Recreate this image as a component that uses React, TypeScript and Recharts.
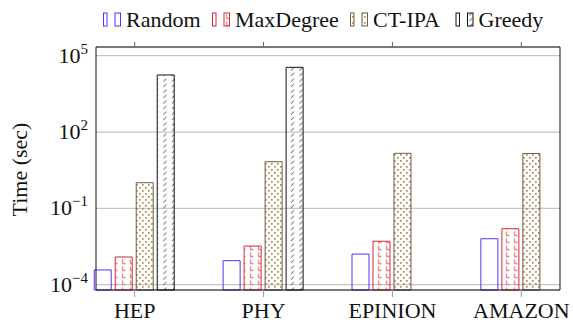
import { Bar, BarChart, CartesianGrid, Legend, XAxis, YAxis } from "recharts";

const datasets = ["HEP", "PHY", "EPINION", "AMAZON"];
const randomTime = [3.8e-4, 8.8e-4, 1.6e-3, 6.4e-3];
const maxDegreeTime = [1.23e-3, 3.3e-3, 5.1e-3, 0.0159];
const ctIpaTime = [1.02, 6.8, 14.6, 14.3];
const greedyTime: (number | null)[] = [17500, 35000, null, null];
const yTicks = [1e-4, 1e-1, 1e2, 1e5];
const xTicks = [0, 1, 2, 3];

const rows = datasets.map((name, idx) => ({
  idx,
  name,
  random: randomTime[idx],
  maxDegree: maxDegreeTime[idx],
  ctIpa: ctIpaTime[idx],
  greedy: greedyTime[idx],
}));

const FONT = '"Liberation Serif", "Times New Roman", serif';
const textStyle = { fontFamily: FONT };

const series = [
  { key: "random", label: "Random", stroke: "#5a2cff", fill: "none", legendX: 103 },
  { key: "maxDegree", label: "MaxDegree", stroke: "#d42a36", fill: "url(#patL)", legendX: 212 },
  { key: "ctIpa", label: "CT-IPA", stroke: "#735c3c", fill: "url(#patDots)", legendX: 350 },
  { key: "greedy", label: "Greedy", stroke: "#111", fill: "url(#patSlash)", legendX: 455.5 },
];

function LogTick({ x, y, payload }: any) {
  const exp = Math.round(Math.log10(payload.value));
  const expText = exp < 0 ? `\u2212${Math.abs(exp)}` : `${exp}`;
  return (
    <text x={x} y={y + 7} textAnchor="end" fontSize={22} style={textStyle} fill="#111">
      10
      <tspan dy={-9} fontSize={15}>
        {expText}
      </tspan>
    </text>
  );
}

function renderLegend() {
  return (
    <svg width={573} height={36} style={{ display: "block", fontFamily: FONT }}>
      {series.map((s) => (
        <g key={s.key}>
          <rect x={s.legendX + 0.5} y={13} width={3.5} height={13} fill={s.fill} stroke={s.stroke} strokeWidth={1} />
          <rect x={s.legendX + 12} y={13} width={5.5} height={13} fill={s.fill} stroke={s.stroke} strokeWidth={1} />
          <text x={s.legendX + 23} y={26.5} fontSize={22} style={textStyle} fill="#111">
            {s.label}
          </text>
        </g>
      ))}
    </svg>
  );
}

function YLabel({ viewBox }: any) {
  const cx = viewBox.x + 27;
  const cy = viewBox.y + viewBox.height / 2 + 1;
  return (
    <text
      x={cx}
      y={cy}
      transform={`rotate(-90 ${cx} ${cy})`}
      textAnchor="middle"
      fontSize={22}
      style={textStyle}
      fill="#111"
    >
      Time (sec)
    </text>
  );
}

export default function App() {
  return (
    <div style={{ position: "absolute", left: 0, top: 0, background: "#fff", fontFamily: FONT }}>
      <BarChart
        width={573}
        height={325}
        data={rows}
        margin={{ top: 0, right: 0, bottom: 0, left: 0 }}
        barSize={17}
        barGap={4}
      >
        <defs>
          <pattern id="patDots" width={6} height={6} patternUnits="userSpaceOnUse">
            <rect x={1} y={1} width={1.7} height={1.7} fill="#b08a52" />
            <rect x={4} y={4} width={1.7} height={1.7} fill="#b08a52" />
          </pattern>
          <pattern id="patL" width={8} height={7} patternUnits="userSpaceOnUse">
            <path d="M2.5 0.5 V4.5 H5.5" fill="none" stroke="#e88a8e" strokeWidth={1.3} />
          </pattern>
          <pattern id="patSlash" width={8.5} height={5.5} patternUnits="userSpaceOnUse">
            <path d="M2 4.5 L5 1.5" fill="none" stroke="#333" strokeWidth={0.9} />
          </pattern>
        </defs>
        <Legend verticalAlign="top" align="left" height={36} content={renderLegend} wrapperStyle={{ left: 0, top: 0, width: 573 }} />
        <CartesianGrid vertical={false} stroke="#c6c6c6" strokeWidth={1.2} />
        <XAxis
          dataKey="idx"
          type="number"
          domain={[-0.3, 3.3]}
          ticks={xTicks}
          tickFormatter={(i: number) => datasets[i]}
          height={35}
          tickSize={7}
          tickMargin={5}
          tickLine={{ stroke: "#999" }}
          axisLine={{ stroke: "#111" }}
          tick={{ fontSize: 22, fontFamily: FONT, fill: "#111" }}
        />
        <XAxis
          xAxisId="top"
          orientation="top"
          dataKey="idx"
          type="number"
          domain={[-0.3, 3.3]}
          ticks={xTicks}
          height={11}
          tickSize={5}
          tickLine={{ stroke: "#666" }}
          axisLine={{ stroke: "#111" }}
          tick={() => <g />}
        />
        <YAxis
          scale="log"
          type="number"
          domain={[6.19e-5, 2.2e5]}
          ticks={yTicks}
          width={96}
          tickLine={false}
          axisLine={{ stroke: "#111" }}
          tick={<LogTick />}
          label={<YLabel />}
        />
        <YAxis yAxisId="right" orientation="right" width={13} tick={false} tickLine={false} axisLine={{ stroke: "#111" }} />
        {series.map((s) => (
          <Bar
            key={s.key}
            dataKey={s.key}
            name={s.label}
            fill={s.fill}
            stroke={s.stroke}
            strokeWidth={1}
            isAnimationActive={false}
          />
        ))}
      </BarChart>
    </div>
  );
}
